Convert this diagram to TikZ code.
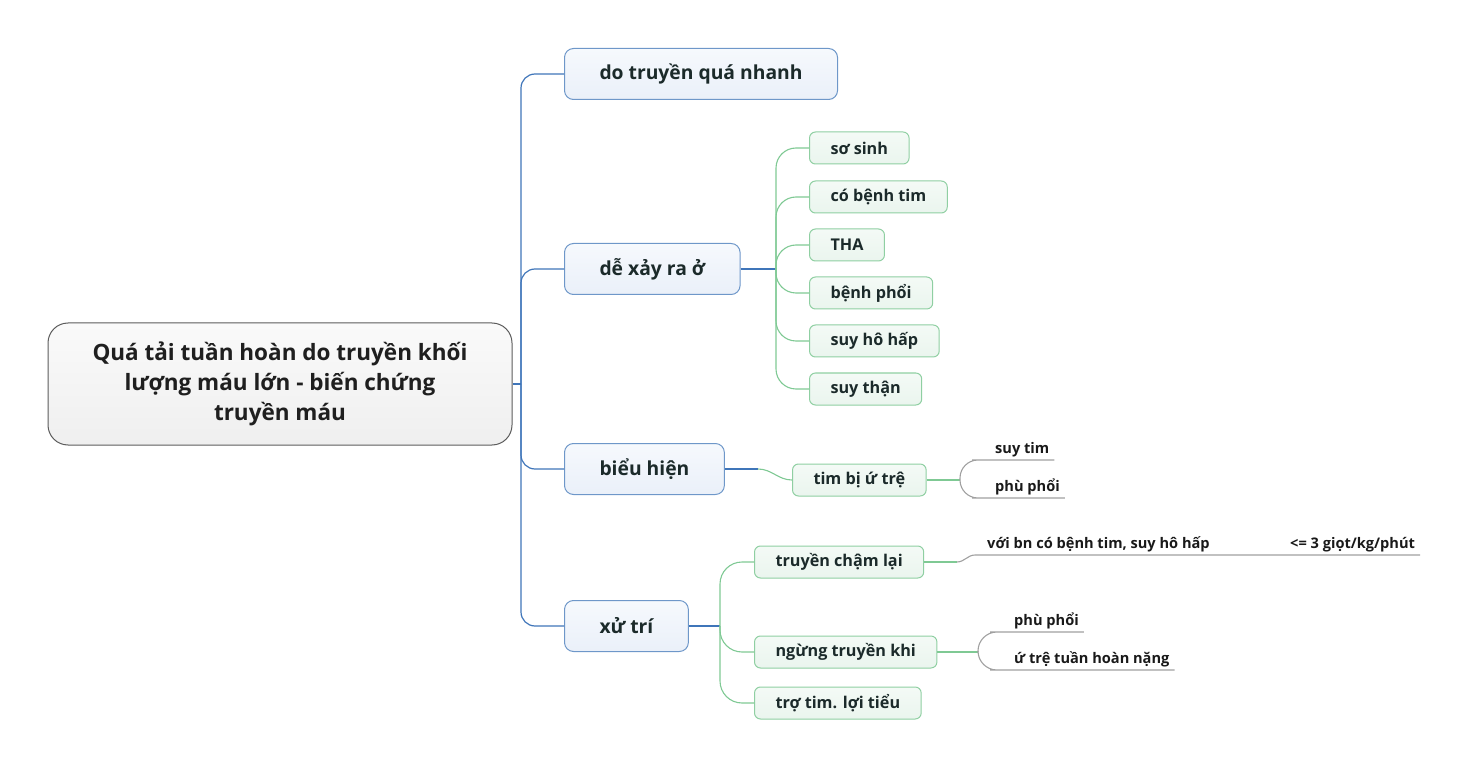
\documentclass[tikz,border=0pt]{standalone}
\usepackage{fontspec}
\setmainfont{Open Sans}
\usepackage{xcolor}
\usetikzlibrary{positioning}

\definecolor{rootline}{HTML}{5C5C5C}
\definecolor{roottop}{HTML}{FAFAFA}
\definecolor{rootbot}{HTML}{EFEFEF}
\definecolor{blueline}{HTML}{3F75B9}
\definecolor{blueedge}{HTML}{6E97C9}
\definecolor{bluetop}{HTML}{F6F9FD}
\definecolor{bluebot}{HTML}{EAF0F9}
\definecolor{greenline}{HTML}{7FC994}
\definecolor{greenedge}{HTML}{8FCFA2}
\definecolor{greentop}{HTML}{F4FAF6}
\definecolor{greenbot}{HTML}{EAF5EE}
\definecolor{greyline}{HTML}{A0A0A0}
\definecolor{inktext}{HTML}{1B2A2A}

\tikzset{
	rootbox/.style={draw=rootline, line width=1, top color=roottop, bottom color=rootbot, rounded corners=20, minimum width=464, minimum height=122, align=center, text=black!88, font=\fontsize{22.5}{30}\selectfont\bfseries},
	mainbox/.style={draw=blueedge, line width=1, top color=bluetop, bottom color=bluebot, rounded corners=9, minimum height=51, inner xsep=35, anchor=west, text=inktext, font=\fontsize{19.3}{22}\selectfont\bfseries},
	subbox/.style={draw=greenedge, line width=1, top color=greentop, bottom color=greenbot, rounded corners=6, minimum height=32, inner xsep=21, anchor=west, text=inktext, font=\fontsize{16.2}{18}\selectfont\bfseries},
	leaf/.style={anchor=south west, inner xsep=5, inner ysep=2, text depth=4, text=black!90, font=\fontsize{14.6}{16}\selectfont\bfseries},
	bluelink/.style={draw=blueline, line width=1.2},
	greenlink/.style={draw=greenline, line width=1.1},
	greylink/.style={draw=greyline, line width=1.1}
}

\begin{document}
\begin{tikzpicture}[x=1pt, y=-1pt]
	\useasboundingbox (0,0) rectangle (1473,767);

	\node[rootbox] (root) at (280,384) {Quá tải tuần hoàn do truyền khối\\lượng máu lớn - biến chứng\\truyền máu};

	\node[mainbox] (nhanh) at (564,74) {do truyền quá nhanh};
	\node[mainbox] (xayra) at (564,269) {dễ xảy ra ở};
	\node[mainbox] (bieuhien) at (564,469) {biểu hiện};
	\node[mainbox] (xutri) at (564,626) {xử trí};

	\node[subbox] (sosinh) at (809,148) {sơ sinh};
	\node[subbox] (benhtim) at (809,197) {có bệnh tim};
	\node[subbox] (tha) at (809,245) {THA};
	\node[subbox] (benhphoi) at (809,293) {bệnh phổi};
	\node[subbox] (suyhohap) at (809,341) {suy hô hấp};
	\node[subbox] (suythan) at (809,389) {suy thận};

	\node[subbox] (timtre) at (792,480) {tim bị ứ trệ};
	\node[leaf] (suytim) at (990,460) {suy tim};
	\node[leaf] (phuphoi) at (990,498) {phù phổi};

	\node[subbox] (truyencham) at (754,562) {truyền chậm lại};
	\node[subbox] (ngung) at (754,652) {ngừng truyền khi};
	\node[subbox] (trotim) at (754,703) {trợ tim. lợi tiểu};
	\node[leaf, inner xsep=12] (voibn) at (975,555) {với bn có bệnh tim, suy hô hấp};
	\node[leaf] (giot) at (1285,555) {<= 3 giọt/kg/phút};
	\node[leaf] (ngphuphoi) at (1009,632) {phù phổi};
	\node[leaf] (utre) at (1009,670) {ứ trệ tuần hoàn nặng};

	\coordinate (j0) at (521,384);
	\coordinate (j1) at (776,269);
	\coordinate (j2) at (758,469);
	\coordinate (j3) at (960,480);
	\coordinate (j4) at (720,626);
	\coordinate (j5) at (957,562);
	\coordinate (j6) at (978,652);

	\draw[bluelink] (root.east) -- (j0);
	\foreach \n in {nhanh,xayra,bieuhien,xutri}
		\draw[bluelink, rounded corners=14] (j0) |- (\n.west);

	\draw[bluelink] (xayra.east) -- (j1);
	\foreach \n in {sosinh,benhtim,tha,benhphoi,suyhohap,suythan}
		\draw[greenlink, rounded corners=20] (j1) |- (\n.west);

	\draw[bluelink] (bieuhien.east) -- (j2);
	\draw[greenlink] (j2) to[out=0, in=180] (timtre.west);
	\draw[greenlink] (timtre.east) -- (j3);
	\foreach \n in {suytim,phuphoi}
		\draw[greylink, rounded corners=18] (j3) |- (\n.south west) -- (\n.south east);

	\draw[bluelink] (xutri.east) -- (j4);
	\foreach \n in {truyencham,ngung,trotim}
		\draw[greenlink, rounded corners=22] (j4) |- (\n.west);

	\draw[greenlink] (truyencham.east) -- (j5);
	\draw[greylink] (j5) to[out=0, in=180] (voibn.south west) -- (voibn.south east) -- (giot.south west) -- (giot.south east);

	\draw[greenlink] (ngung.east) -- (j6);
	\foreach \n in {ngphuphoi,utre}
		\draw[greylink, rounded corners=19] (j6) |- (\n.south west) -- (\n.south east);
\end{tikzpicture}
\end{document}
